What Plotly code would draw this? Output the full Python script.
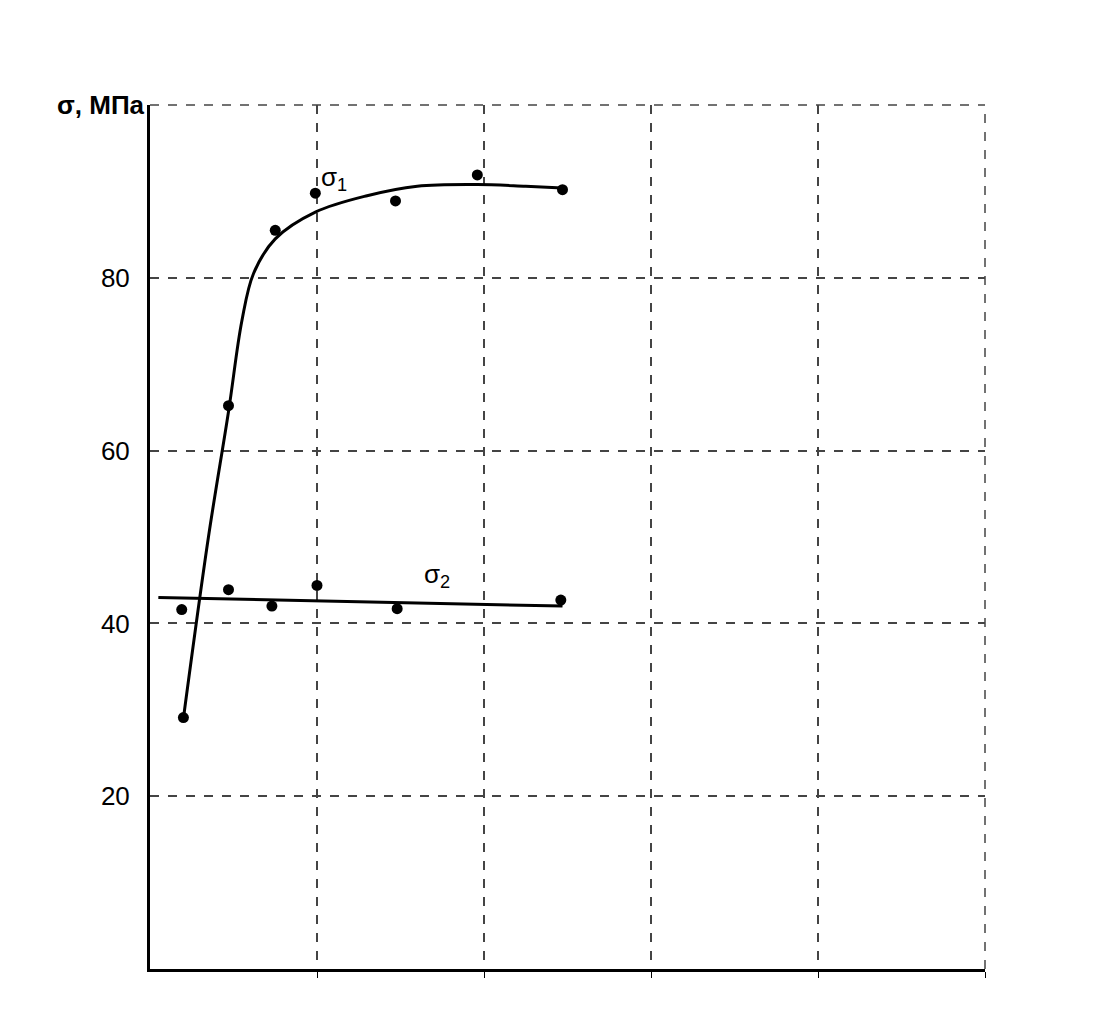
import plotly.graph_objects as go

# measured points
s1_x = [0.2, 0.47, 0.75, 0.99, 1.47, 1.96, 2.47]
s1_y = [29.1, 65.2, 85.5, 89.8, 88.9, 91.9, 90.2]
s2_x = [0.19, 0.47, 0.73, 1.0, 1.48, 2.46]
s2_y = [41.6, 43.9, 42.0, 44.4, 41.7, 42.7]

# hand-drawn fitted curves
c1_x = [0.2, 0.35, 0.47, 0.55, 0.62, 0.75, 0.99, 1.3, 1.6, 1.96, 2.25, 2.47]
c1_y = [29.0, 50.0, 64.5, 75.0, 80.5, 84.5, 87.6, 89.5, 90.6, 90.8, 90.6, 90.4]
c2_x = [0.05, 2.47]
c2_y = [43.0, 42.0]

fig = go.Figure()
fig.add_trace(go.Scatter(x=c1_x, y=c1_y, mode="lines", line=dict(color="black", width=3, shape="spline")))
fig.add_trace(go.Scatter(x=c2_x, y=c2_y, mode="lines", line=dict(color="black", width=3)))
fig.add_trace(go.Scatter(x=s1_x, y=s1_y, mode="markers", marker=dict(color="black", size=11)))
fig.add_trace(go.Scatter(x=s2_x, y=s2_y, mode="markers", marker=dict(color="black", size=11)))

fig.add_annotation(x=1.1, y=91.5, text="σ<sub>1</sub>", showarrow=False, font=dict(size=26))
fig.add_annotation(x=1.72, y=45.5, text="σ<sub>2</sub>", showarrow=False, font=dict(size=26))
fig.add_annotation(x=0, y=1, xref="paper", yref="paper", xanchor="left", yanchor="middle", xshift=-95,
                   text="<b>σ, МПа</b>", showarrow=False, font=dict(size=26))

# dashed top and right border
fig.add_shape(type="line", xref="paper", yref="paper", x0=0, x1=1, y0=1, y1=1,
              line=dict(color="#444", width=1.5, dash="dash"))
fig.add_shape(type="line", xref="paper", yref="paper", x0=1, x1=1, y0=0, y1=1,
              line=dict(color="#444", width=1.5, dash="dash"))

fig.update_layout(
    width=1110, height=1019, showlegend=False,
    paper_bgcolor="white", plot_bgcolor="white",
    margin=dict(l=142, r=133, t=97, b=58),
    font=dict(family="Liberation Sans, Arial", color="black", size=26),
)
fig.update_xaxes(range=[0, 5], tickvals=[1, 2, 3, 4, 5], showticklabels=False,
                 showgrid=True, gridcolor="#444", griddash="dash", gridwidth=1.5,
                 showline=True, linecolor="black", linewidth=3, mirror=False,
                 zeroline=False, ticks="outside", ticklen=6, tickcolor="black")
fig.update_yaxes(range=[0, 100], tickvals=[20, 40, 60, 80], ticktext=["20", "40", "60", "80"],
                 showgrid=True, gridcolor="#444", griddash="dash", gridwidth=1.5,
                 showline=True, linecolor="black", linewidth=3, zeroline=False,
                 ticks="", ticklabelstandoff=12)

fig.write_html("out.html")
